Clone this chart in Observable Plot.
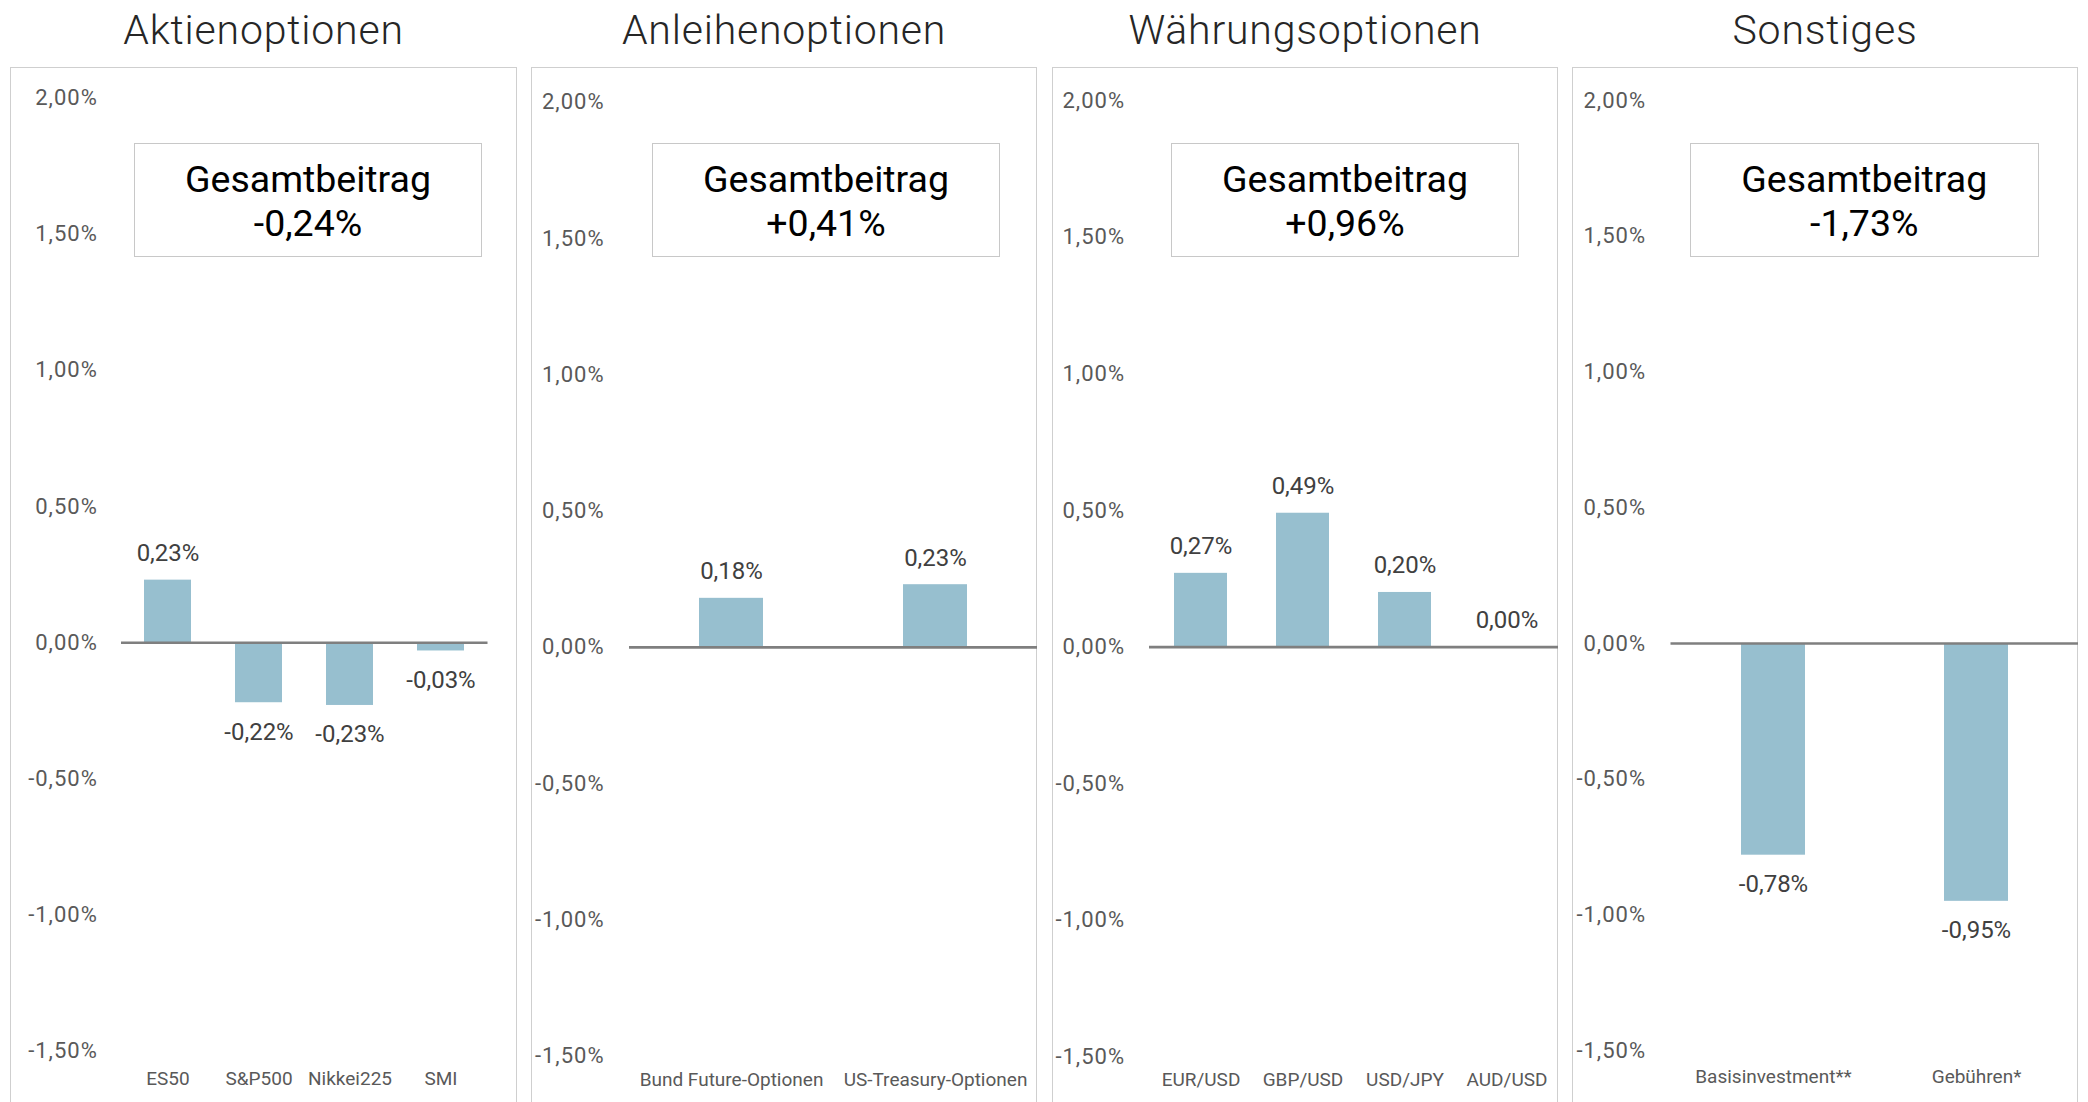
<!DOCTYPE html>
<html><head><meta charset="utf-8">
<script src="https://cdn.jsdelivr.net/npm/d3@7"></script>
<script src="https://cdn.jsdelivr.net/npm/@observablehq/plot@0.6"></script>
<style>
body{margin:0;background:#fff;}
#root{position:relative;width:2088px;height:1102px;overflow:hidden;font-family:Roboto,sans-serif;background:#fff;}
.frame{position:absolute;top:67px;height:1100px;border:1.5px solid #cfcfcf;box-sizing:border-box;}
.title{position:absolute;top:9.5px;line-height:41px;font-size:41px;letter-spacing:0.8px;font-weight:300;color:#262626;text-align:center;white-space:nowrap;}
.box{position:absolute;top:143px;height:114px;border:1.5px solid #c8c8c8;box-sizing:border-box;}
.boxtext{position:absolute;top:157.2px;line-height:44px;font-size:37.5px;color:#000;text-align:center;white-space:nowrap;}
.plotwrap{position:absolute;top:67px;}
</style></head><body><div id="root"></div>
<script>
const panelTitles = ["Aktienoptionen", "Anleihenoptionen", "Währungsoptionen", "Sonstiges"];
const aktienCats = ["ES50", "S&P500", "Nikkei225", "SMI"];
const aktienVals = [0.23, -0.22, -0.23, -0.03];
const anleiheCats = ["Bund Future-Optionen", "US-Treasury-Optionen"];
const anleiheVals = [0.18, 0.23];
const waehrungCats = ["EUR/USD", "GBP/USD", "USD/JPY", "AUD/USD"];
const waehrungVals = [0.27, 0.49, 0.20, 0.00];
const sonstCats = ["Basisinvestment**", "Gebühren*"];
const sonstVals = [-0.78, -0.95];
const totalLabel = "Gesamtbeitrag";
const totals = ["-0,24%", "+0,41%", "+0,96%", "-1,73%"];
const yTicks = [-1.5, -1.0, -0.5, 0, 0.5, 1.0, 1.5, 2.0];

const fmt = v => v.toFixed(2).replace(".", ",") + "%";

const layouts = [
  {frameL: 10,   frameR: 517,  zero: 642.3, k: 136.2, xL: 121,    xR: 487.5, labR: 96.3,   catBase: 1084, pad: 0.48,  box: [134, 482]},
  {frameL: 531,  frameR: 1037, zero: 646.9, k: 136.3, xL: 629,    xR: 1037,  labR: 603,    catBase: 1085, pad: 0.688, box: [652, 1000]},
  {frameL: 1052, frameR: 1558, zero: 646.6, k: 136.6, xL: 1149,   xR: 1558,  labR: 1123.5, catBase: 1085, pad: 0.478, box: [1171, 1519]},
  {frameL: 1572, frameR: 2078, zero: 643.0, k: 135.7, xL: 1670.5, xR: 2078,  labR: 1644.5, catBase: 1082, pad: 0.685, box: [1689.5, 2039]}
];
const series = [
  [aktienCats, aktienVals],
  [anleiheCats, anleiheVals],
  [waehrungCats, waehrungVals],
  [sonstCats, sonstVals]
];

const root = document.getElementById("root");
const LS = 1;
const CAT_FS = 19;

layouts.forEach((L, i) => {
  const [cats, vals] = series[i];
  const data = cats.map((c, j) => ({cat: c, val: vals[j]}));
  const W = L.frameR - L.frameL;
  const H = 1102 - 67;

  const frame = document.createElement("div");
  frame.className = "frame";
  frame.style.left = L.frameL + "px";
  frame.style.width = W + "px";
  root.appendChild(frame);

  const title = document.createElement("div");
  title.className = "title";
  title.style.left = L.frameL + "px";
  title.style.width = W + "px";
  title.textContent = panelTitles[i];
  root.appendChild(title);

  const marginTop = L.zero - 4 * L.k - 67;
  const marginBottom = 1102 - L.zero - 3 * L.k;
  const marginLeft = L.xL - L.frameL;
  const marginRight = L.frameR - L.xR;
  const catPad = L.catBase - (L.zero + 3 * L.k) - 0.71 * CAT_FS;

  const chart = Plot.plot({
    width: W,
    height: H,
    marginTop, marginBottom, marginLeft, marginRight,
    style: {fontFamily: "Roboto, sans-serif", background: "transparent", maxWidth: "none", overflow: "visible"},
    x: {type: "band", domain: cats, paddingInner: L.pad, paddingOuter: L.pad / 2, label: null},
    y: {domain: [-1.5, 2], label: null},
    marks: [
      Plot.axisY(yTicks, {tickSize: 0, tickPadding: L.xL - L.labR - LS, tickFormat: fmt, fontSize: 22, fill: "#595959", label: null}),
      Plot.axisX({tickSize: 0, tickPadding: catPad, fontSize: CAT_FS, fill: "#595959", label: null}),
      Plot.barY(data, {x: "cat", y: "val", fill: "#97bfcf"}),
      Plot.ruleY([0], {stroke: "#7f7f7f", strokeWidth: 2.6}),
      Plot.text(data.filter(d => d.val >= 0), {x: "cat", y: "val", text: d => fmt(d.val), lineAnchor: "bottom", dy: -19, fontSize: 24, fill: "#404040"}),
      Plot.text(data.filter(d => d.val < 0), {x: "cat", y: "val", text: d => fmt(d.val), lineAnchor: "bottom", dy: 37, fontSize: 24, fill: "#404040"})
    ]
  });
  d3.select(chart).selectAll('g[aria-label="y-axis tick label"] text').style("letter-spacing", LS + "px");

  const wrap = document.createElement("div");
  wrap.className = "plotwrap";
  wrap.style.left = L.frameL + "px";
  wrap.style.width = W + "px";
  wrap.appendChild(chart);
  root.appendChild(wrap);

  const box = document.createElement("div");
  box.className = "box";
  box.style.left = L.box[0] + "px";
  box.style.width = (L.box[1] - L.box[0]) + "px";
  root.appendChild(box);

  const bt = document.createElement("div");
  bt.className = "boxtext";
  bt.style.left = L.box[0] + "px";
  bt.style.width = (L.box[1] - L.box[0]) + "px";
  const l1 = document.createElement("div"); l1.textContent = totalLabel;
  const l2 = document.createElement("div"); l2.textContent = totals[i];
  bt.appendChild(l1); bt.appendChild(l2);
  root.appendChild(bt);
});
</script>
</body></html>
